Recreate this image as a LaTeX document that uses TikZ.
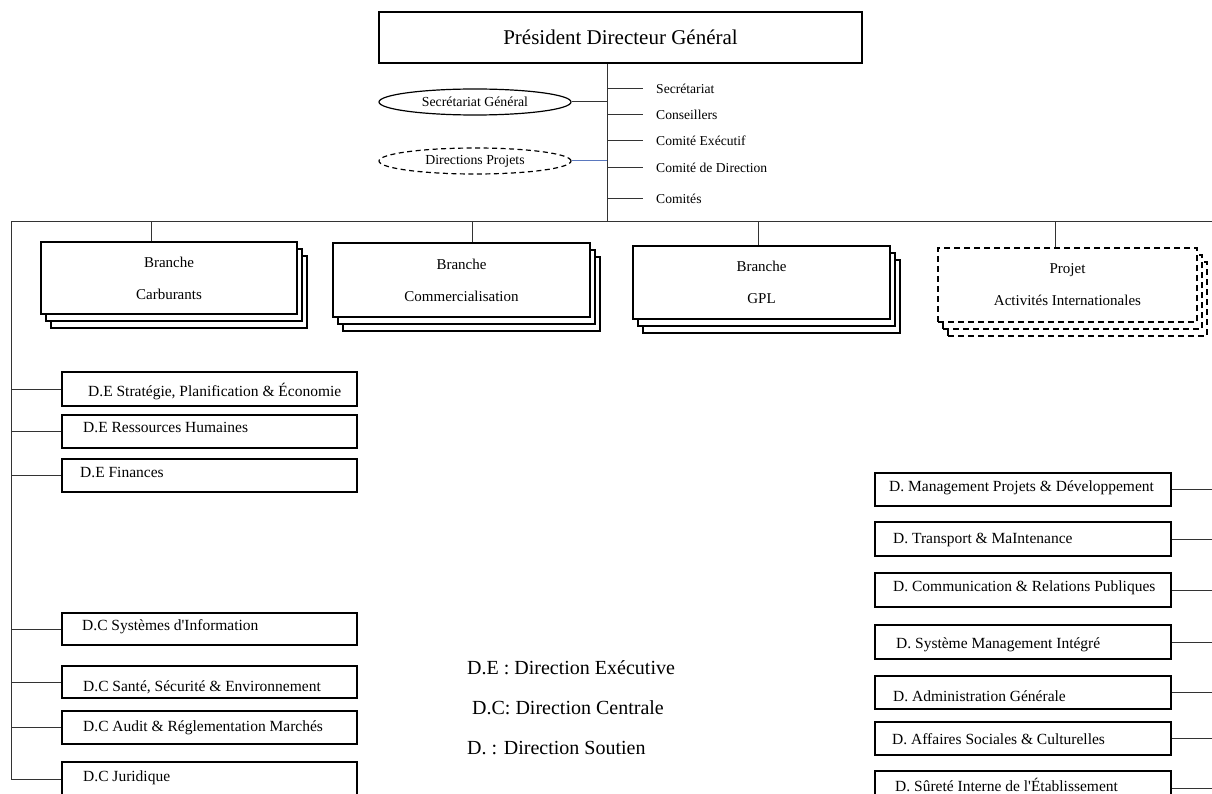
\documentclass[tikz,border=0pt]{standalone}
\usepackage{fontspec}
\setmainfont{Liberation Serif}
\usetikzlibrary{shapes.geometric,shadows}
\definecolor{lienbleu}{RGB}{90,120,190}

\begin{document}
\begin{tikzpicture}[x=1pt, y=-1pt,
   line/.style={line width=1pt, black!80},
   cadre/.style={draw, line width=1.6pt, fill=white, inner sep=0pt},
   pile/.style={cadre, align=center, font=\fontsize{15}{18}\selectfont,
      copy shadow={shadow xshift=10pt, shadow yshift=-14pt, line width=1.6pt},
      copy shadow={shadow xshift=5pt, shadow yshift=-7pt, line width=1.6pt}},
   pilep/.style={pile, dash pattern=on 6pt off 4pt,
      copy shadow={shadow xshift=10pt, shadow yshift=-14pt, line width=1.6pt, dash pattern=on 6pt off 4pt},
      copy shadow={shadow xshift=5pt, shadow yshift=-7pt, line width=1.6pt, dash pattern=on 6pt off 4pt}},
   ovale/.style={ellipse, draw, line width=1.2pt, minimum width=192pt, minimum height=26pt, inner sep=0pt, font=\fontsize{13.8}{16}\selectfont},
   etiq/.style={anchor=west, inner sep=0pt, font=\fontsize{13.6}{16}\selectfont},
   dtexte/.style={anchor=west, inner sep=0pt, font=\fontsize{15.5}{18}\selectfont},
   legende/.style={anchor=west, inner sep=0pt, font=\fontsize{20}{24}\selectfont}]
   \useasboundingbox (0,0) rectangle (1212,794);

   \node[cadre, minimum width=483pt, minimum height=51pt, font=\fontsize{21}{25}\selectfont] (pdg) at (620.5,37.5) {Président Directeur Général};
   \coordinate (axe) at (607,222);
   \draw[line] (pdg.south -| axe) -- (axe);

   \node[etiq] (sec) at (656,89) {Secrétariat};
   \node[etiq] (cons) at (656,115) {Conseillers};
   \node[etiq] (cex) at (656,141) {Comité Exécutif};
   \node[etiq] (cdir) at (656,168) {Comité de Direction};
   \node[etiq] (com) at (656,199) {Comités};
   \foreach \n in {sec,cons,cex,cdir,com}
      \draw[line] (\n.west -| axe) -- ++(36,0);

   \node[ovale] (sg) at (475,102) {Secrétariat Général};
   \node[ovale, dash pattern=on 5pt off 3.5pt] (dp) at (475,161) {Directions Projets};
   \draw[line] (sg.east) -- (sg.east -| axe);
   \draw[line, lienbleu] (dp.east) -- (dp.east -| axe);

   \node[pile, minimum width=256pt, minimum height=72pt] (carb) at (169,278) {Branche\\[14pt]Carburants};
   \node[pile, minimum width=257pt, minimum height=74pt] (comm) at (461.5,280) {Branche\\[14pt]Commercialisation};
   \node[pile, minimum width=257pt, minimum height=73pt] (gpl) at (761.5,282.5) {Branche\\[14pt]GPL};
   \node[pilep, minimum width=259pt, minimum height=74pt] (proj) at (1067.5,285) {Projet\\[14pt]Activités Internationales};

   \coordinate (gauche) at (11,222);
   \coordinate (droite) at (1212,222);
   \coordinate (b1) at (151,222);
   \coordinate (b2) at (472,222);
   \coordinate (b3) at (758,222);
   \coordinate (b4) at (1055,222);
   \draw[line] (b1) -- (b1 |- carb.north);
   \draw[line] (b2) -- (b2 |- comm.north);
   \draw[line] (b3) -- (b3 |- gpl.north);
   \draw[line] (b4) -- (b4 |- proj.north);

   \foreach \nom/\y/\h/\tx/\ty/\texte in {
      e1/389/34/88/392/{D.E Stratégie, Planification \& Économie},
      e2/431.5/33/83/427/{D.E Ressources Humaines},
      e3/475.5/33/80/472/{D.E Finances},
      c1/629/32/82/627/{D.C Systèmes d\textquotesingle Information},
      c2/682/32/83/687/{D.C Santé, Sécurité \& Environnement},
      c3/727.5/33/83/728/{D.C Audit \& Réglementation Marchés},
      c4/779/34/83/778/{D.C Juridique}}
   {
      \node[cadre, minimum width=295pt, minimum height=\h pt] (\nom) at (209.5,\y) {};
      \node[dtexte] (\nom-t) at (\tx,\ty) {\texte};
      \draw[line] (\nom.west -| gauche) -- (\nom.west);
   }
   \draw[line] (droite) -- (gauche) -- (gauche |- c4.west);

   \foreach \nom/\y/\h/\tx/\ty/\texte in {
      s1/489.5/33/889/488/{D. Management Projets \& Développement},
      s2/539/34/893/540/{D. Transport \& MaIntenance},
      s3/590/34/893/588/{D. Communication \& Relations Publiques},
      s4/642/34/896/645/{D. Système Management Intégré},
      s5/692.5/33/893/696/{D. Administration Générale},
      s6/738.5/33/892/739/{D. Affaires Sociales \& Culturelles},
      s7/788/34/895/785/{D. Sûreté Interne de l\textquotesingle Établissement}}
   {
      \node[cadre, minimum width=296pt, minimum height=\h pt] (\nom) at (1023,\y) {};
      \node[dtexte] (\nom-t) at (\tx,\ty) {\texte};
      \draw[line] (\nom.east) -- (\nom.east -| droite);
   }

   \node[legende] (lde) at (467,668) {D.E : Direction Exécutive};
   \node[legende] (ldc) at (472,708) {D.C: Direction Centrale};
   \node[legende] (ld) at (467,748) {D. : Direction Soutien};
\end{tikzpicture}
\end{document}
